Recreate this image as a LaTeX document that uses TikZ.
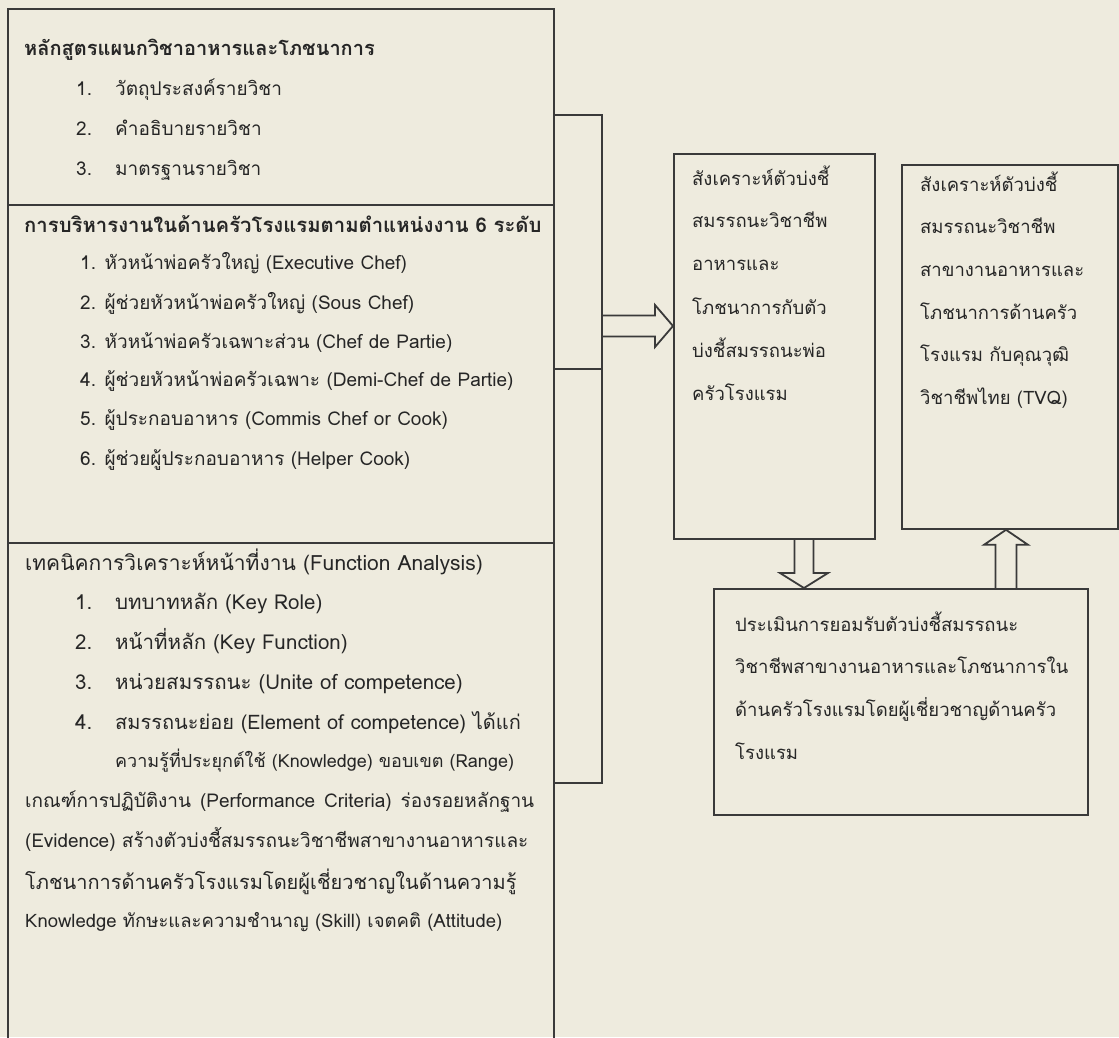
\documentclass[tikz,border=0pt]{standalone}
\usepackage{fontspec}
\setmainfont{Loma}[Script=Thai]
\usetikzlibrary{calc}
\definecolor{paper}{RGB}{238,235,222}
\definecolor{ink}{RGB}{58,58,58}
\definecolor{txt}{RGB}{38,38,38}
\newcommand{\fs}[1]{\fontsize{#1}{20}\selectfont}
\begin{document}
\begin{tikzpicture}[x=1pt,y=-1pt,
  box/.style={draw=ink,line width=1.8pt,anchor=north west,inner sep=0pt},
  conn/.style={draw=ink,line width=1.8pt,line join=miter},
  ln/.style={anchor=base west,inner sep=0pt,text=txt,font=\fs{19}},
  hd/.style={ln,font=\fs{20}\bfseries},
  rt/.style={ln,font=\fs{18.5}}]
\fill[paper] (0,0) rectangle (1119,1037);
\useasboundingbox (0,0) rectangle (1119,1037);
\clip (0,0) rectangle (1119,1037);

% boxes
\node[box,minimum width=546pt,minimum height=196pt] (s1) at (7,8) {};
\node[box,minimum width=546pt,minimum height=338pt] (s2) at (7,204) {};
\node[box,minimum width=546pt,minimum height=520pt] (s3) at (7,542) {};
\node[box,minimum width=201pt,minimum height=385pt] (mid) at (673,153) {};
\node[box,minimum width=216pt,minimum height=364pt] (rb) at (901,164) {};
\node[box,minimum width=374pt,minimum height=226pt] (bot) at (713,588) {};

% section 1
\node[hd] (h1) at (24,55) {หลักสูตรแผนกวิชาอาหารและโภชนาการ};
\node[ln] (n11) at (76,95) {1.};  \node[ln] (t11) at (115,95) {วัตถุประสงค์รายวิชา};
\node[ln] (n12) at (76,135) {2.}; \node[ln] (t12) at (115,135) {คำอธิบายรายวิชา};
\node[ln] (n13) at (76,175) {3.}; \node[ln] (t13) at (115,175) {มาตรฐานรายวิชา};

% section 2
\node[hd,font=\fs{20.3}\bfseries] (h2) at (24,232) {การบริหารงานในด้านครัวโรงแรมตามตำแหน่งงาน 6 ระดับ};
\node[ln] (t21) at (80,269) {1. หัวหน้าพ่อครัวใหญ่ (Executive Chef)};
\node[ln] (t22) at (80,309) {2. ผู้ช่วยหัวหน้าพ่อครัวใหญ่ (Sous Chef)};
\node[ln] (t23) at (80,348) {3. หัวหน้าพ่อครัวเฉพาะส่วน (Chef de Partie)};
\node[ln] (t24) at (80,386) {4. ผู้ช่วยหัวหน้าพ่อครัวเฉพาะ (Demi-Chef de Partie)};
\node[ln] (t25) at (80,425) {5. ผู้ประกอบอาหาร (Commis Chef or Cook)};
\node[ln] (t26) at (80,465) {6. ผู้ช่วยผู้ประกอบอาหาร (Helper Cook)};

% section 3
\node[ln,font=\fs{21}] (h3) at (25,570) {เทคนิคการวิเคราะห์หน้าที่งาน (Function Analysis)};
\node[ln,font=\fs{20.5}] (n31) at (75,609) {1.}; \node[ln,font=\fs{20.5}] (t31) at (115,609) {บทบาทหลัก (Key Role)};
\node[ln,font=\fs{20.5}] (n32) at (75,649) {2.}; \node[ln,font=\fs{20.5}] (t32) at (115,649) {หน้าที่หลัก (Key Function)};
\node[ln,font=\fs{20.5}] (n33) at (75,689) {3.}; \node[ln,font=\fs{20.5}] (t33) at (115,689) {หน่วยสมรรถนะ (Unite of competence)};
\node[ln,font=\fs{20.5}] (n34) at (75,729) {4.}; \node[ln,font=\fs{20}] (t34) at (115,729) {สมรรถนะย่อย (Element of competence) ได้แก่};
\node[ln,font=\fs{18}] (t35) at (115,767) {ความรู้ที่ประยุกต์ใช้ (Knowledge) ขอบเขต (Range)};
\node[ln] (p1) at (25,807) {\makebox[509pt][s]{เกณฑ์การปฏิบัติงาน (Performance Criteria) ร่องรอยหลักฐาน}};
\node[ln] (p2) at (25,847) {(Evidence) สร้างตัวบ่งชี้สมรรถนะวิชาชีพสาขางานอาหารและ};
\node[ln,font=\fs{20}] (p3) at (25,889) {โภชนาการด้านครัวโรงแรมโดยผู้เชี่ยวชาญในด้านความรู้};
\node[ln,font=\fs{18.5}] (p4) at (25,927) {Knowledge ทักษะและความชำนาญ (Skill) เจตคติ (Attitude)};

% middle box
\node[rt] (m1) at (692,185) {สังเคราะห์ตัวบ่งชี้};
\node[rt] (m2) at (692,227) {สมรรถนะวิชาชีพ};
\node[rt] (m3) at (692,270) {อาหารและ};
\node[rt] (m4) at (692,314) {โภชนาการกับตัว};
\node[rt] (m5) at (692,357) {บ่งชี้สมรรถนะพ่อ};
\node[rt] (m6) at (692,400) {ครัวโรงแรม};

% right box
\node[rt] (r1) at (920,191) {สังเคราะห์ตัวบ่งชี้};
\node[rt] (r2) at (920,233) {สมรรถนะวิชาชีพ};
\node[rt] (r3) at (920,276) {สาขางานอาหารและ};
\node[rt] (r4) at (920,319) {โภชนาการด้านครัว};
\node[rt] (r5) at (920,361) {โรงแรม กับคุณวุฒิ};
\node[rt] (r6) at (920,404) {วิชาชีพไทย (TVQ)};

% bottom box
\node[rt] (b1) at (735,631) {ประเมินการยอมรับตัวบ่งชี้สมรรถนะ};
\node[rt] (b2) at (735,673) {วิชาชีพสาขางานอาหารและโภชนาการใน};
\node[rt] (b3) at (735,716) {ด้านครัวโรงแรมโดยผู้เชี่ยวชาญด้านครัว};
\node[rt] (b4) at (735,759) {โรงแรม};

% bracket connector
\coordinate (bt) at (602,115);
\coordinate (bm) at (602,369);
\coordinate (bb) at (602,783);
\draw[conn] (s1.east |- bt) -- (bt) -- (bb) -- (s3.east |- bb);
\draw[conn] (s2.east |- bm) -- (bm);

% block arrow into middle box
\coordinate (ra) at (mid.west |- 0,326);
\draw[conn] ($(bt|-ra)+(0,-10.5)$) -- ($(ra)+(-18,-10.5)$) -- ($(ra)+(-18,-21)$)
  -- (ra) -- ($(ra)+(-18,21)$) -- ($(ra)+(-18,10.5)$) -- ($(bt|-ra)+(0,10.5)$);

% down arrow middle -> bottom
\coordinate (da) at (bot.north -| 804,0);
\draw[conn] ($(mid.south -| da)+(-9.5,0)$) -- ($(da)+(-9.5,-15)$) -- ($(da)+(-24,-15)$)
  -- (da) -- ($(da)+(24,-15)$) -- ($(da)+(9.5,-15)$) -- ($(mid.south -| da)+(9.5,0)$);

% up arrow bottom -> right
\coordinate (ua) at (rb.south -| 1006,0);
\draw[conn] ($(bot.north -| ua)+(-10.5,0)$) -- ($(ua)+(-10.5,15)$) -- ($(ua)+(-22,15)$)
  -- (ua) -- ($(ua)+(22,15)$) -- ($(ua)+(10.5,15)$) -- ($(bot.north -| ua)+(10.5,0)$);
\end{tikzpicture}
\end{document}
